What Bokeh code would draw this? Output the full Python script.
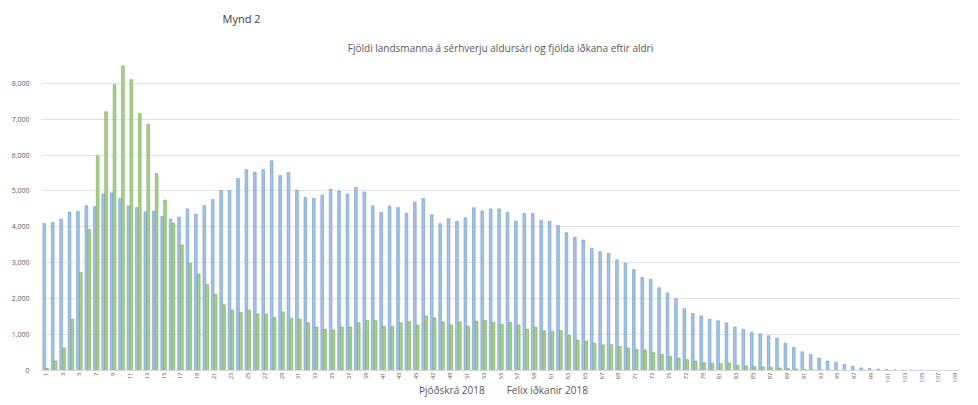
import math
from bokeh.plotting import figure
from bokeh.models import (FixedTicker, Range1d, Legend, LegendItem, Title,
                          ColumnDataSource, CustomJSTickFormatter, CDSView, IndexFilter)
from bokeh.layouts import column
from bokeh.embed import file_html
from bokeh.resources import INLINE

ages = list(range(1, 110))
tick_ages = list(range(1, 110, 2))
y_ticks = [0, 1000, 2000, 3000, 4000, 5000, 6000, 7000, 8000]

thjodskra = [
    4090, 4126, 4217, 4417, 4435, 4590, 4563, 4918, 4945, 4790,
    4582, 4536, 4417, 4435, 4290, 4217, 4272, 4500, 4354, 4590,
    4763, 5010, 5010, 5346, 5592, 5519, 5592, 5838, 5428, 5510,
    5018, 4817, 4790, 4882, 5046, 5000, 4909, 5100, 4973, 4581,
    4399, 4581, 4536, 4381, 4690, 4790, 4335, 4089, 4226, 4153,
    4253, 4530, 4440, 4500, 4500, 4408, 4162, 4372, 4372, 4180,
    4153, 4035, 3834, 3707, 3634, 3406, 3306, 3260, 3078, 2987,
    2814, 2587, 2541, 2304, 2158, 1995, 1721, 1585, 1521, 1425,
    1384, 1330, 1211, 1148, 1066, 1020, 965, 902, 756, 638,
    519, 446, 346, 264, 227, 164, 118, 73, 55, 40,
    28, 18, 12, 8, 5, 3, 2, 1, 1,
]

felix = [
    55, 264, 628, 1420, 2732, 3925, 5975, 7205, 7960, 8480,
    8097, 7158, 6858, 5483, 4745, 4098, 3497, 2978, 2686, 2395,
    2122, 1830, 1685, 1612, 1685, 1576, 1576, 1485, 1630, 1457,
    1430, 1330, 1212, 1148, 1130, 1212, 1212, 1330, 1393, 1393,
    1230, 1230, 1330, 1366, 1266, 1521, 1466, 1357, 1266, 1357,
    1230, 1375, 1393, 1339, 1284, 1339, 1266, 1148, 1202, 1111,
    1093, 1111, 975, 847, 820, 756, 710, 720, 665, 628,
    583, 570, 492, 446, 392, 346, 300, 264, 218, 200,
    190, 210, 146, 127, 110, 100, 80, 70, 55, 40,
    30, 20, 15, 10, 6, 4, 3, 2, 1, 0,
    0, 0, 0, 0, 0, 0, 0, 0, 0,
]

series_names = ["Þjóðskrá 2018", "Felix iðkanir 2018"]
chart_title = "Fjöldi landsmanna á sérhverju aldursári og fjölda iðkana eftir aldri"
caption = "Mynd 2"

FONT = "Open Sans"
GREY = "#595959"
BLUE_FILL, BLUE_LINE = "#a3c3e6", "#6e98c8"
GREEN_FILL, GREEN_LINE = "#a9d18e", "#74a850"

src = ColumnDataSource(dict(
    x_blue=[a - 0.17 for a in ages],
    x_green=[a + 0.17 for a in ages],
    blue=thjodskra,
    green=felix,
))

p = figure(width=962, height=385, output_backend="svg", toolbar_location=None,
           x_range=Range1d(0.5, 109.5), y_range=Range1d(0, 8660),
           min_border_left=41, min_border_right=3, min_border_top=0,
           min_border_bottom=0)

t1 = Title(text=caption, align="left", offset=181, text_font=FONT,
           text_font_size="11px", text_color="#404040", text_font_style="normal",
           standoff=17)
t2 = Title(text=chart_title, align="center", text_font=FONT, text_font_size="10px",
           text_color=GREY, text_font_style="normal", standoff=9)
p.add_layout(t2, "above")
p.add_layout(t1, "above")

p.vbar(x="x_blue", top="blue", width=0.32, source=src,
       fill_color=BLUE_FILL, line_color=BLUE_LINE, line_width=0.6)
p.vbar(x="x_green", top="green", width=0.32, source=src,
       fill_color=GREEN_FILL, line_color=GREEN_LINE, line_width=0.6)

p.xaxis.ticker = FixedTicker(ticks=tick_ages)
p.xaxis.major_label_orientation = math.pi / 2
p.xaxis.major_label_text_font = FONT
p.xaxis.major_label_text_font_size = "6px"
p.xaxis.major_label_text_color = GREY
p.xaxis.major_tick_line_color = None
p.xaxis.major_tick_out = 0
p.xaxis.major_tick_in = 0
p.xaxis.minor_tick_line_color = None
p.xaxis.minor_tick_out = 0
p.xaxis.minor_tick_in = 0
p.xaxis.axis_line_color = "#d9d9d9"
p.xaxis.major_label_standoff = 2

p.yaxis.ticker = FixedTicker(ticks=y_ticks)
p.yaxis.formatter = CustomJSTickFormatter(code="return tick.toLocaleString('en-US');")
p.yaxis.major_label_text_font = FONT
p.yaxis.major_label_text_font_size = "7px"
p.yaxis.major_label_text_color = GREY
p.yaxis.major_tick_line_color = None
p.yaxis.major_tick_out = 0
p.yaxis.major_tick_in = 0
p.yaxis.minor_tick_line_color = None
p.yaxis.minor_tick_out = 0
p.yaxis.minor_tick_in = 0
p.yaxis.axis_line_color = None
p.yaxis.major_label_standoff = 12

p.xgrid.grid_line_color = None
p.ygrid.grid_line_color = "#e3e3e3"
p.outline_line_color = None

# legend strip below the chart; its renderers draw no bars (empty view)
lf = figure(width=962, height=12, output_backend="svg", toolbar_location=None,
            x_range=Range1d(0.5, 109.5), y_range=Range1d(-2, -1),
            x_axis_type=None, y_axis_type=None,
            min_border_left=0, min_border_right=0, min_border_top=0,
            min_border_bottom=0)
lf.outline_line_color = None
lf.grid.grid_line_color = None
empty = CDSView(filter=IndexFilter(indices=[]))
lr1 = lf.vbar(x="x_blue", top="blue", width=0.32, source=src, view=empty,
              fill_color=BLUE_FILL, line_color=BLUE_LINE, line_width=0.6)
lr2 = lf.vbar(x="x_green", top="green", width=0.32, source=src,
              view=CDSView(filter=IndexFilter(indices=[])),
              fill_color=GREEN_FILL, line_color=GREEN_LINE, line_width=0.6)

legend = Legend(items=[LegendItem(label=series_names[0], renderers=[lr1]),
                       LegendItem(label=series_names[1], renderers=[lr2])],
                orientation="horizontal", location=(367, 0),
                label_text_font=FONT, label_text_font_size="10px",
                label_text_color=GREY, glyph_width=7, glyph_height=7,
                label_standoff=4, spacing=11, padding=0, margin=0,
                border_line_color=None, background_fill_alpha=0)
lf.add_layout(legend, "center")

layout = column(p, lf, spacing=0)
open("out.html", "w").write(file_html(layout, INLINE))
